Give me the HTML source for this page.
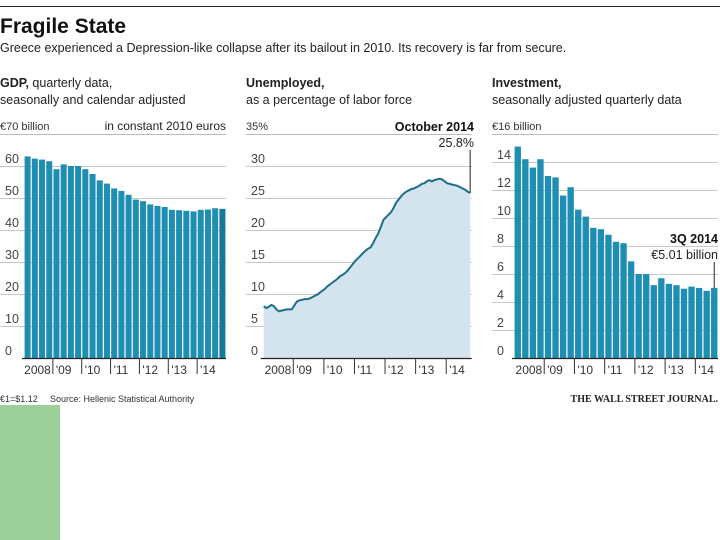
<!DOCTYPE html>
<html><head><meta charset="utf-8">
<style>
body{margin:0;background:#fff;width:720px;height:540px;overflow:hidden;font-family:"Liberation Sans",sans-serif;}
svg{position:absolute;left:0;top:0}
.green{position:absolute;left:0;top:405px;width:60px;height:135px;background:#9dcf9a}
</style></head><body>
<div class="green"></div>
<svg id="s" width="720" height="540" font-family="Liberation Sans, sans-serif">
<line x1="0" y1="6.5" x2="720" y2="6.5" stroke="#222" stroke-width="1"/>
<text x="0" y="33" font-size="21" font-weight="bold" fill="#111">Fragile State</text>
<text x="0" y="52" font-size="12.5" fill="#222">Greece experienced a Depression-like collapse after its bailout in 2010. Its recovery is far from secure.</text>
<text x="0" y="87" font-size="12.5" fill="#222"><tspan font-weight="bold">GDP,</tspan> quarterly data,</text>
<text x="0" y="104" font-size="12.5" fill="#222">seasonally and calendar adjusted</text>
<text x="246" y="87" font-size="12.5" font-weight="bold" fill="#222">Unemployed,</text>
<text x="246" y="104" font-size="12.5" fill="#222">as a percentage of labor force</text>
<text x="492" y="87" font-size="12.5" font-weight="bold" fill="#222">Investment,</text>
<text x="492" y="104" font-size="12.5" fill="#222">seasonally adjusted quarterly data</text>
<text x="0" y="402" font-size="9" fill="#333">€1=$1.12</text>
<text x="50" y="402" font-size="9" fill="#333">Source: Hellenic Statistical Authority</text>
<text x="718" y="402" font-size="10" font-weight="bold" font-family="Liberation Serif, serif" text-anchor="end" fill="#222">THE WALL STREET JOURNAL.</text>
</svg>
<script>
const gdpValues=[63,62.3,62,61.5,59,60.5,60,60,59,57.5,55.5,54.5,53,52.2,51,49.5,49,48,47.5,47.2,46.3,46.2,46,45.8,46.3,46.4,46.8,46.6];
const gdpTicks=[0,10,20,30,40,50,60];
const invValues=[15.1,14.2,13.6,14.2,13.0,12.9,11.6,12.2,10.6,10.1,9.3,9.2,8.8,8.3,8.2,6.9,6.0,6.0,5.2,5.7,5.3,5.2,4.95,5.1,5.0,4.8,5.01];
const invTicks=[0,2,4,6,8,10,12,14];
const unempValues=[8.1,7.8,8.0,8.3,8.1,7.6,7.3,7.4,7.5,7.6,7.6,7.6,8.2,8.8,9.0,9.1,9.2,9.2,9.3,9.5,9.7,9.9,10.2,10.5,10.8,11.2,11.5,11.8,12.1,12.4,12.8,13.0,13.3,13.7,14.2,14.7,15.2,15.6,16.0,16.4,16.8,17.1,17.3,18.0,18.8,19.5,20.5,21.6,22.0,22.4,22.8,23.5,24.3,24.8,25.3,25.7,26.0,26.2,26.4,26.5,26.7,26.9,27.2,27.3,27.6,27.8,27.6,27.8,27.9,28.0,27.9,27.6,27.3,27.2,27.1,27.0,26.9,26.7,26.5,26.3,26.0,25.8];
const unempTicks=[0,5,10,15,20,25,30];
const yearLabels=["2008","'09","'10","'11","'12","'13","'14"];

const svg=document.getElementById('s');
const NS='http://www.w3.org/2000/svg';
function mk(tag,attrs,name,parent){const e=document.createElementNS(NS,tag);for(const k in attrs)e.setAttribute(k,attrs[k]);


(parent||svg).appendChild(e);return e;}
function txt(x,y,s,attrs,name){const e=mk('text',Object.assign({x:x,y:y,'font-size':11.5,fill:'#333'},attrs||{}),name);e.textContent=s;return e;}
const BASE=358,TOP=134;

function frame(lx,px0,px1,max,ticks,topLabel,pfx){
  const ys=v=>BASE-(v/max)*(BASE-TOP);
  mk('line',{x1:lx,y1:TOP+0.5,x2:px1,y2:TOP+0.5,stroke:'#bbb'},pfx+'-top-gridline');
  txt(lx,TOP-4,topLabel,{'font-size':11},pfx+'-top-label');
  ticks.forEach(t=>{
    if(t>0) mk('line',{x1:lx,y1:ys(t)+0.5,x2:px1,y2:ys(t)+0.5,stroke:'#c8c8c8'},pfx+'-gridline');
    txt(lx+5,ys(t)-3,String(t),{'font-size':12.5,fill:'#444'},pfx+'-y-tick-label');
  });
  return ys;
}
function xaxis(px0,step,pfx,px1){
  mk('line',{x1:px0-2,y1:BASE+0.5,x2:px1,y2:BASE+0.5,stroke:'#222','stroke-width':1.2},pfx+'-baseline');
  yearLabels.forEach((l,i)=>{
    const x=px0+i*step;
    if(i>0) mk('line',{x1:x,y1:BASE,x2:x,y2:BASE+16,stroke:'#333'},pfx+'-x-tick');
    if(i===0) txt(px0+step-2,BASE+16,l,{'text-anchor':'end','font-size':12},pfx+'-x-label');
    else txt(x+3,BASE+16,l,{'font-size':12},pfx+'-x-label');
  });
}
// GDP
(function(){
  const px0=24,px1=226,bw=(px1-px0)/gdpValues.length;
  const ys=frame(0,px0,px1,70,gdpTicks,'€70 billion','gdp');
  txt(226,TOP-4,'in constant 2010 euros',{'text-anchor':'end','font-size':12,fill:'#222'},'gdp-units-note');
  gdpValues.forEach((v,i)=>{mk('rect',{x:px0+i*bw+0.6,y:ys(v),width:bw-1.2,height:BASE-ys(v),fill:i===gdpValues.length-1?'#17789a':'#1e8fb3'},'gdp-bar');});
  xaxis(px0,bw*4,'gdp',px1);
})();
// Unemployment
(function(){
  const px0=262.7,px1=471.7,step=(px1-px0)/(unempValues.length);
  const ys=frame(246,px0,px1,35,unempTicks,'35%','unemp');
  const xs=i=>px0+i*step+1;
  let d='M'+xs(0)+','+ys(unempValues[0]);
  unempValues.forEach((v,i)=>{if(i>0)d+=' L'+xs(i).toFixed(1)+','+ys(v).toFixed(1);});
  const last=unempValues.length-1;
  mk('path',{d:d+' L'+xs(last)+','+BASE+' L'+xs(0)+','+BASE+' Z',fill:'#d3e4ee'},'unemp-area');
  mk('path',{d:d,fill:'none',stroke:'#1d6e89','stroke-width':2},'unemp-line');
  mk('line',{x1:xs(last),y1:ys(unempValues[last]),x2:xs(last),y2:150,stroke:'#222'},'unemp-annotation-leader');
  txt(474,131,'October 2014',{'text-anchor':'end','font-weight':'bold','font-size':12.5,fill:'#111'},'unemp-annotation-title');
  txt(474,147,unempValues[last].toFixed(1)+'%',{'text-anchor':'end','font-size':12.5,fill:'#222'},'unemp-annotation-value');
  xaxis(px0,step*12,'unemp',px1);
})();
// Investment
(function(){
  const px0=514,px1=718,bw=(px1-px0)/invValues.length;
  const ys=frame(492,px0,px1,16,invTicks,'€16 billion','inv');
  invValues.forEach((v,i)=>{mk('rect',{x:px0+i*bw+0.6,y:ys(v),width:bw-1.2,height:BASE-ys(v),fill:'#1e8fb3'},'inv-bar');});
  const last=invValues.length-1,lx=px0+last*bw+bw/2;
  mk('line',{x1:lx,y1:ys(invValues[last]),x2:lx,y2:262,stroke:'#222'},'inv-annotation-leader');
  txt(718,243,'3Q 2014',{'text-anchor':'end','font-weight':'bold','font-size':12.5,fill:'#111'},'inv-annotation-title');
  txt(718,259,'€'+invValues[last].toFixed(2)+' billion',{'text-anchor':'end','font-size':12.5,fill:'#222'},'inv-annotation-value');
  xaxis(px0,bw*4,'inv',px1);
})();
</script>
</body></html>
